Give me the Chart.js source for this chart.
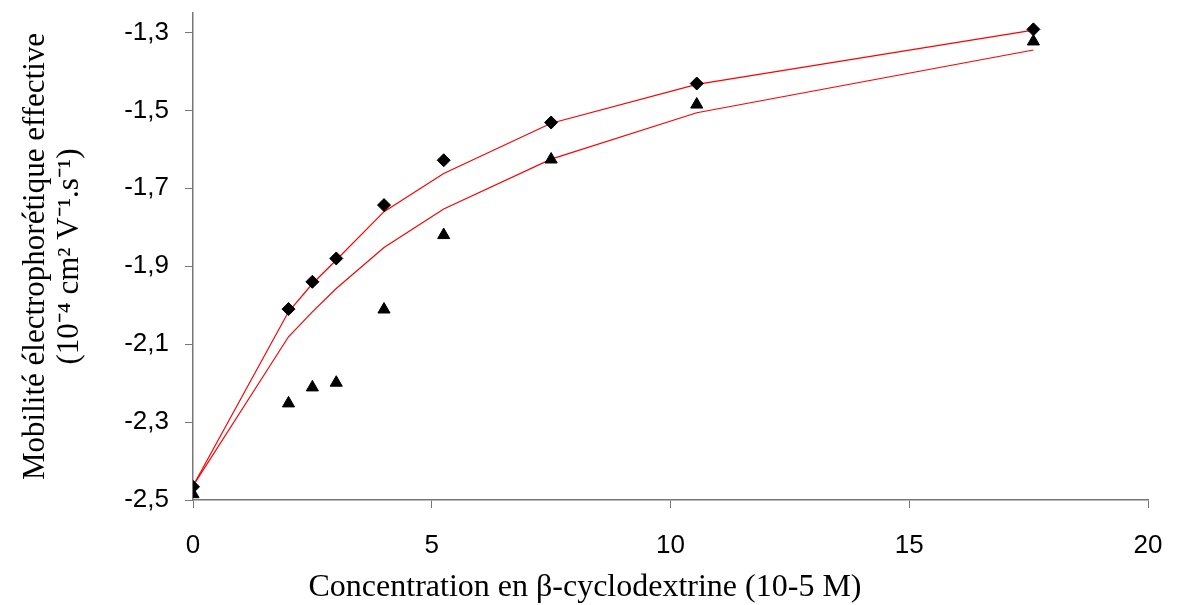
<!DOCTYPE html>
<html>
<head>
<meta charset="utf-8">
<script src="https://cdn.jsdelivr.net/npm/chart.js@4"></script>
<style>
  html, body { margin: 0; padding: 0; background: #fff; }
  #wrap { width: 1177px; height: 605px; }
</style>
</head>
<body>
<div id="wrap"><canvas id="chart" width="1177" height="605"></canvas></div>
<script>
// concentration of beta-cyclodextrine (10-5 M)
const concentrations = [0, 2, 2.5, 3, 4, 5.25, 7.5, 10.55, 17.6];

// measured mobilities (diamonds, triangles)
const mobility_diamonds = [-2.466, -2.010, -1.940, -1.880, -1.743, -1.628, -1.531, -1.431, -1.292];
const mobility_triangles = [-2.485, -2.252, -2.211, -2.199, -2.011, -1.820, -1.626, -1.485, -1.323];

// fitted curves (red lines)
const fit_upper = [-2.464, -2.017, -1.945, -1.884, -1.760, -1.662, -1.533, -1.433, -1.294];
const fit_lower = [-2.464, -2.081, -2.017, -1.957, -1.852, -1.753, -1.625, -1.506, -1.345];

const x_ticks = [0, 5, 10, 15, 20];
const y_ticks = [-2.5, -2.3, -2.1, -1.9, -1.7, -1.5, -1.3];

const x_title = 'Concentration en β-cyclodextrine (10-5 M)';
const y_title = ['Mobilité électrophorétique effective', '(10⁻⁴ cm² V⁻¹.s⁻¹)'];

const to_points = (values) => concentrations.map((c, i) => ({ x: c, y: values[i] }));

const axis_color = '#777777';

// x title sits centred on the page, not on the plot area
const x_title_plugin = {
    id: 'x_title',
    afterDraw: (chart) => {
        const ctx = chart.ctx;
        ctx.save();
        ctx.font = '32px "Liberation Serif"';
        ctx.fillStyle = '#000';
        ctx.textAlign = 'center';
        ctx.textBaseline = 'middle';
        ctx.fillText(x_title, 585, 588);
        ctx.restore();
    }
};

const data = {
    datasets: [
        {
            label: 'diamonds',
            data: to_points(mobility_diamonds),
            pointStyle: 'rectRot',
            pointRadius: 6.5,
            pointBackgroundColor: '#000',
            pointBorderColor: '#000',
            pointBorderWidth: 1,
            showLine: false,
            order: 1
        },
        {
            label: 'triangles',
            data: to_points(mobility_triangles),
            pointStyle: 'triangle',
            pointRadius: 7,
            pointBackgroundColor: '#000',
            pointBorderColor: '#000',
            pointBorderWidth: 1,
            showLine: false,
            order: 2
        },
        {
            label: 'fit upper',
            data: to_points(fit_upper),
            showLine: true,
            borderColor: '#ff0000',
            borderWidth: 1.2,
            pointRadius: 0,
            tension: 0,
            order: 3
        },
        {
            label: 'fit lower',
            data: to_points(fit_lower),
            showLine: true,
            borderColor: '#ff0000',
            borderWidth: 1.2,
            pointRadius: 0,
            tension: 0,
            order: 4
        }
    ]
};

const config = {
    type: 'scatter',
    data: data,
    plugins: [x_title_plugin],
    options: {
        responsive: false,
        animation: false,
        layout: {
            padding: { left: 0, right: 29, top: 13, bottom: 0 }
        },
        scales: {
            x: {
                type: 'linear',
                min: 0,
                max: 20,
                afterBuildTicks: (axis) => { axis.ticks = x_ticks.map((v) => ({ value: v })); },
                afterFit: (axis) => {
                    axis.height = 105;
                    axis.paddingLeft = 0;
                    axis.paddingRight = 0;
                },
                grid: {
                    display: true,
                    drawOnChartArea: false,
                    drawTicks: true,
                    tickLength: 8,
                    color: axis_color
                },
                border: { color: axis_color, width: 1.5 },
                ticks: {
                    color: '#000',
                    padding: 22,
                    maxRotation: 0,
                    font: { family: 'Liberation Sans', size: 26 }
                },
                title: { display: false }
            },
            y: {
                type: 'linear',
                min: -2.5,
                max: -1.25,
                afterBuildTicks: (axis) => { axis.ticks = y_ticks.map((v) => ({ value: v })); },
                afterFit: (axis) => {
                    axis.width = 193;
                    axis.paddingTop = 0;
                    axis.paddingBottom = 0;
                },
                grid: {
                    display: true,
                    drawOnChartArea: false,
                    drawTicks: true,
                    tickLength: 8,
                    color: axis_color
                },
                border: { color: axis_color, width: 1.5 },
                ticks: {
                    color: '#000',
                    padding: 16,
                    font: { family: 'Liberation Sans', size: 26 },
                    callback: (value) => value.toFixed(1).replace('.', ',')
                },
                title: {
                    display: true,
                    text: y_title,
                    color: '#000',
                    font: { family: 'Liberation Serif', size: 31, lineHeight: 1.12 },
                    padding: { top: 18, bottom: 0 }
                }
            }
        },
        plugins: {
            legend: { display: false },
            tooltip: { enabled: false }
        }
    }
};

var ctx_chart = document.getElementById("chart");
var chart = new Chart(ctx_chart, config);
</script>
</body>
</html>
